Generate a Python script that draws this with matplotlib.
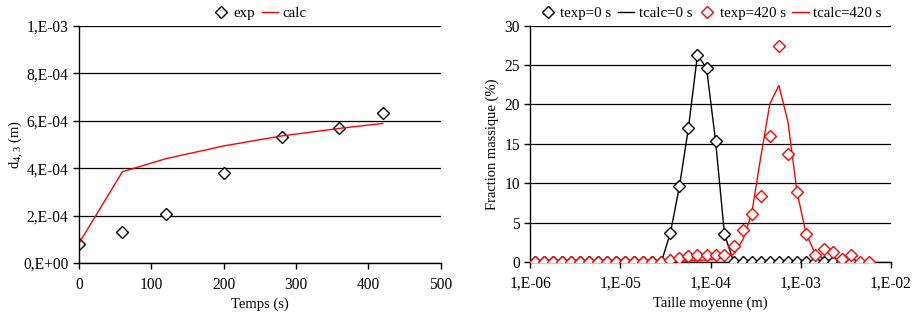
import matplotlib
matplotlib.use('Agg')
import matplotlib.pyplot as plt
import numpy as np

plt.rcParams['font.family'] = ['Liberation Serif', 'DejaVu Serif']
plt.rcParams['mathtext.default'] = 'regular'
plt.rcParams['font.size'] = 10.5

# --- left chart: mean diameter vs time
t_exp = [0, 60, 120, 200, 280, 360, 420]
d_exp = [7.9e-5, 1.29e-4, 2.05e-4, 3.80e-4, 5.32e-4, 5.68e-4, 6.32e-4]
t_calc = [0, 60, 120, 200, 280, 360, 420]
d_calc = [8.3e-5, 3.85e-4, 4.40e-4, 4.94e-4, 5.36e-4, 5.68e-4, 5.89e-4]
left_yticks = [0, 2e-4, 4e-4, 6e-4, 8e-4, 1e-3]
left_ylabels = ['0,E+00', '2,E-04', '4,E-04', '6,E-04', '8,E-04', '1,E-03']
left_xticks = [0, 100, 200, 300, 400, 500]

# --- right chart: size distribution
sizes = [1.12e-6, 1.41e-6, 1.78e-6, 2.24e-6, 2.82e-6, 3.56e-6, 4.48e-6, 5.65e-6,
         7.12e-6, 8.96e-6, 1.13e-5, 1.42e-5, 1.79e-5, 2.26e-5, 2.85e-5, 3.59e-5,
         4.52e-5, 5.69e-5, 7.17e-5, 9.04e-5, 1.14e-4, 1.43e-4, 1.81e-4, 2.28e-4,
         2.87e-4, 3.62e-4, 4.56e-4, 5.74e-4, 7.24e-4, 9.12e-4, 1.15e-3, 1.45e-3,
         1.82e-3, 2.30e-3, 2.90e-3, 3.65e-3, 4.60e-3, 5.79e-3]
f_exp0 = [0, 0, 0, 0, 0, 0, 0, 0, 0, 0, 0, 0, 0, 0, 0, 3.7,
          9.6, 17.0, 26.3, 24.6, 15.3, 3.5, 0, 0, 0, 0, 0, 0, 0, 0, 0, 0,
          0, 0, 0, 0]
f_calc0 = [0, 0, 0, 0, 0, 0, 0, 0, 0, 0, 0, 0, 0, 0, 0, 3.7,
           9.6, 17.0, 26.3, 24.6, 15.3, 3.5, 0, 0, 0, 0, 0, 0, 0, 0, 0, 0,
           0, 0, 0, 0]
f_exp420 = [0, 0, 0, 0, 0, 0, 0, 0, 0, 0, 0, 0, 0, 0, 0, 0.2,
            0.45, 0.7, 0.9, 0.9, 0.9, 0.9, 2.05, 4.1, 6.05, 8.4, 16.0, 27.4,
            13.75, 8.9, 3.55, 0.9, 1.65, 1.3, 0.4, 0.95, 0, 0]
f_calc420 = [0, 0, 0, 0, 0, 0, 0, 0, 0, 0, 0, 0, 0, 0, 0, 0.05,
             0.1, 0.15, 0.2, 0.25, 0.35, 0.6, 1.0, 2.8, 6.2, 13.4, 20.1, 22.4,
             17.8, 8.9, 3.6, 1.1, 0.34, 0.1, 0, 0, 0, 0]
right_yticks = [0, 5, 10, 15, 20, 25, 30]
right_xticks = [1e-6, 1e-5, 1e-4, 1e-3, 1e-2]
right_xlabels = ['1,E-06', '1,E-05', '1,E-04', '1,E-03', '1,E-02']

fig = plt.figure(figsize=(9.16, 3.2), dpi=100)
W, H = 916, 320
ax1 = fig.add_axes([79 / W, 1 - 263 / H, (440.7 - 79) / W, (263 - 26) / H])
ax2 = fig.add_axes([530.3 / W, 1 - 262 / H, (890.7 - 530.3) / W, (262 - 25.7) / H])

mk = dict(marker='D', markersize=6, markerfacecolor='white', markeredgewidth=1.0,
          linestyle='none')
leg_kw = dict(loc='lower center', bbox_to_anchor=(0.5, 1.0), frameon=False,
              handlelength=1.1, handletextpad=0.3, columnspacing=0.45,
              borderaxespad=0, fontsize=10.7)

def style_axes(ax):
    for side in ['top', 'right']:
        ax.spines[side].set_visible(False)
    for side in ['left', 'bottom']:
        ax.spines[side].set_color('black')
        ax.spines[side].set_linewidth(1.0)
    ax.yaxis.grid(True, color='black', linewidth=0.9)
    ax.set_axisbelow(True)
    ax.tick_params(direction='out', length=4, width=1, colors='black', labelsize=11.2)
    ax.tick_params(axis='x', pad=6)

# left
ax1.plot(t_exp, d_exp, color='black', label='exp', **mk)
ax1.plot(t_calc, d_calc, color='red', linewidth=1.0, label='calc')
ax1.set_xlim(0, 500)
ax1.set_ylim(0, 1e-3)
ax1.set_xticks(left_xticks)
ax1.set_yticks(left_yticks)
ax1.set_yticklabels(left_ylabels)
ax1.set_xlabel('Temps (s)', labelpad=3)
ax1.set_ylabel(r'd$_{4,3}$ (m)', labelpad=-1)
style_axes(ax1)
ax1.legend(ncol=2, **leg_kw)

# right
ax2.plot(sizes[:len(f_exp0)], f_exp0, color='black', label='texp=0 s', zorder=3, **mk)
ax2.plot(sizes[:len(f_calc0)], f_calc0, color='black', linewidth=1.0, label='tcalc=0 s', zorder=2)
ax2.plot(sizes, f_exp420, color='red', label='texp=420 s', zorder=4, **mk)
ax2.plot(sizes, f_calc420, color='red', linewidth=1.0, label='tcalc=420 s', zorder=2)
ax2.set_xscale('log')
ax2.set_xlim(1e-6, 1e-2)
ax2.set_ylim(0, 30)
ax2.set_xticks(right_xticks)
ax2.set_xticklabels(right_xlabels)
ax2.xaxis.set_minor_locator(matplotlib.ticker.NullLocator())
ax2.set_yticks(right_yticks)
ax2.set_xlabel('Taille moyenne (m)', labelpad=3)
ax2.set_ylabel('Fraction massique (%)', labelpad=4)
style_axes(ax2)
ax2.legend(ncol=4, **leg_kw)

fig.savefig('out.png', dpi=100)
